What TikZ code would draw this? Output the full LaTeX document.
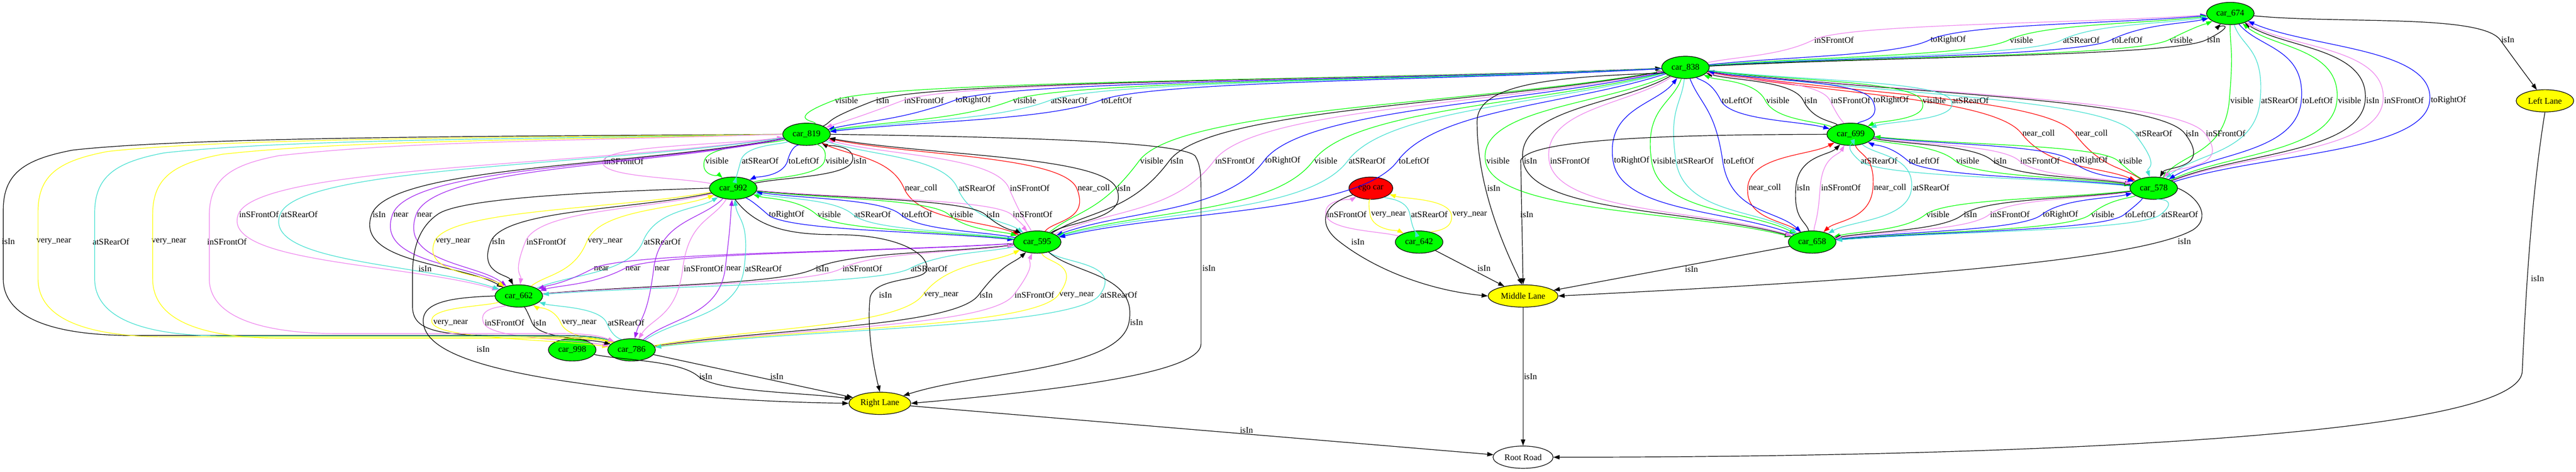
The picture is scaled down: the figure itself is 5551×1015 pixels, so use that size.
\documentclass[tikz,border=0pt]{standalone}
\usepackage{fontspec}
\setmainfont{Liberation Serif}
\usetikzlibrary{shapes.geometric,arrows.meta,calc}
\definecolor{cg}{RGB}{0,255,0}
\definecolor{cv}{RGB}{238,130,238}
\definecolor{cb}{RGB}{0,0,255}
\definecolor{ct}{RGB}{64,224,208}
\definecolor{cr}{RGB}{255,0,0}
\definecolor{cy}{RGB}{255,255,0}
\definecolor{cp}{RGB}{160,32,240}
\newcommand\lblfont{\fontsize{14}{16}\selectfont}
\newcounter{ec}
\newcommand\txtvis{visible}
\newcommand\txtisin{isIn}
\newcommand\txtfr{inSFrontOf}
\newcommand\txttr{toRightOf}
\newcommand\txttl{toLeftOf}
\newcommand\txtrr{atSRearOf}
\newcommand\txtnc{near\_coll}
\newcommand\txtvn{very\_near}
\newcommand\txtnr{near}
% curved edge through the left side of its label
\newcommand\EDG[6]{%
 \stepcounter{ec}%
 \node[lbl] (L\arabic{ec}) at (#3,#4) {#6};%
 \coordinate (V\arabic{ec}) at ([xshift=-1.5pt]L\arabic{ec}.west);%
 \draw[conn,#5] let \p1=(#1), \p2=(#2), \p3=(V\arabic{ec}) in
 (#1) .. controls ({\x1+0.4*(\x3-\x1)},{\y1+0.4*(\y3-\y1)}) and ({\x3-0.06*(\x2-\x1)},{\y3-0.3*(\y2-\y1)}) .. (\p3)
 .. controls ({\x3+0.06*(\x2-\x1)},{\y3+0.3*(\y2-\y1)}) and ({\x2+0.4*(\x3-\x2)},{\y2+0.4*(\y3-\y2)}) .. (#2);%
}
\newcommand\Rel[5]{\EDG{#2}{#3}{#4}{#5}{k#1}{\csname txt#1\endcsname}}
\newcommand\SEDG[6]{\stepcounter{ec}\node[lbl] (L\arabic{ec}) at (#3,#4) {#6};\draw[conn,#5] (#1) -- (#2);}
\newcommand\LBL[3]{\stepcounter{ec}\node[lbl] (L\arabic{ec}) at (#1,#2) {#3};}
% outer arcs car_819 -> car_786
\newcommand\OA[6]{%
 \LBL{#6}{520}{#5}%
 \draw[conn,#4] (n819.west) .. controls (1150,#2) and ({#1+420},#2) .. ({#1+150},{#2+30})
 .. controls ({#1+45},{#2+50}) and (#1,{#2+80}) .. (#1,{#2+160}) -- (#1,600)
 .. controls (#1,{#3-45}) and ({#1+90},#3) .. ({#1+280},#3) -- (1200,#3)
 .. controls (1260,#3) and (1290,{#3+3}) .. (n786.155);%
}
\begin{document}
\begin{tikzpicture}[x=0.75pt,y=-0.75pt,
 conn/.style={line width=1pt,-{Triangle[length=10pt,width=7pt]}},
 lbl/.style={font=\lblfont,inner sep=0pt},
 kvis/.style={color=cg}, kisin/.style={color=black}, kfr/.style={color=cv},
 ktr/.style={color=cb}, ktl/.style={color=cb}, krr/.style={color=ct},
 knc/.style={color=cr}, kvn/.style={color=cy}, knr/.style={color=cp},
 nd/.style={ellipse,draw=black,line width=1pt,inner sep=0pt,font=\lblfont,minimum height=36pt},
 car/.style={nd,fill=cg,minimum width=77pt},
 lane/.style={nd,fill=cy}]
\useasboundingbox (0,0) rectangle (5551,1015);
\fill[white] (0,0) rectangle (5551,1015);
% nodes
\node[car] (n674) at (4806,29) {car\_674};
\node[car] (n838) at (3632,145) {car\_838};
\node[lane,minimum width=93pt] (nLL) at (5484,217) {Left Lane};
\node[car] (n819) at (1738,289) {car\_819};
\node[car] (n699) at (3988,289) {car\_699};
\node[car] (n992) at (1580,405) {car\_992};
\node[nd,fill=cr,minimum width=71pt] (ego) at (2954,405) {ego car};
\node[car] (n578) at (4641,405) {car\_578};
\node[car] (n595) at (2235,521) {car\_595};
\node[car] (n642) at (3058,521) {car\_642};
\node[car] (n658) at (3905,521) {car\_658};
\node[car] (n662) at (1118,637) {car\_662};
\node[lane,minimum width=113pt] (nML) at (3282,637) {Middle Lane};
\node[car] (n998) at (1233,753) {car\_998};
\node[car] (n786) at (1361,753) {car\_786};
\node[lane,minimum width=100pt] (nRL) at (1896,868) {Right Lane};
\node[nd,fill=white,minimum width=97pt] (nRR) at (3282,984) {Root Road};
% car_838 -> car_674
\Rel{fr}{n838}{n674}{3952}{86}
\Rel{tr}{n838}{n674}{4198}{86}
\Rel{vis}{n838}{n674}{4356}{86}
\Rel{rr}{n838}{n674}{4485}{86}
\Rel{tl}{n838}{n674}{4584}{86}
\Rel{vis}{n838}{n674}{4700}{86}
\Rel{isin}{n838}{n674}{4770}{86}
% car_674 <-> car_578
\Rel{vis}{n674}{n578}{4831}{216}
\Rel{rr}{n674}{n578}{4912}{216}
\Rel{tl}{n674}{n578}{4994}{216}
\Rel{vis}{n578}{n674}{5063}{216}
\Rel{isin}{n578}{n674}{5113}{216}
\Rel{fr}{n578}{n674}{5180}{216}
\Rel{tr}{n578}{n674}{5276}{216}
% car_838 -> car_578
\Rel{nc}{n838}{n578}{4393}{287}
\Rel{nc}{n578}{n838}{4507}{287}
\Rel{rr}{n838}{n578}{4641}{287}
\Rel{isin}{n838}{n578}{4724}{287}
\Rel{fr}{n838}{n578}{4796}{287}
% car_838 <-> car_699
\Rel{tl}{n838}{n699}{3743}{216}
\Rel{vis}{n699}{n838}{3831}{216}
\Rel{isin}{n699}{n838}{3902}{216}
\Rel{fr}{n699}{n838}{3988}{216}
\Rel{tr}{n699}{n838}{4075}{216}
\Rel{vis}{n838}{n699}{4168}{216}
\Rel{rr}{n838}{n699}{4246}{216}
% car_699 <-> car_578
\Rel{rr}{n578}{n699}{4049}{346}
\Rel{tl}{n578}{n699}{4146}{346}
\Rel{vis}{n699}{n578}{4240}{346}
\Rel{isin}{n699}{n578}{4310}{346}
\Rel{fr}{n699}{n578}{4396}{346}
\Rel{tr}{n699}{n578}{4504}{346}
\Rel{vis}{n578}{n699}{4591}{346}
% car_699 <-> car_658
\Rel{nc}{n658}{n699}{3803}{404}
\Rel{isin}{n658}{n699}{3886}{404}
\Rel{fr}{n658}{n699}{3967}{404}
\Rel{nc}{n699}{n658}{4073}{404}
\Rel{rr}{n699}{n658}{4161}{404}
% car_838 <-> car_658
\Rel{vis}{n838}{n658}{3228}{346}
\Rel{isin}{n838}{n658}{3298}{346}
\Rel{fr}{n838}{n658}{3383}{346}
\Rel{tr}{n658}{n838}{3516}{346}
\Rel{vis}{n838}{n658}{3586}{346}
\Rel{rr}{n838}{n658}{3653}{346}
\Rel{tl}{n838}{n658}{3747}{346}
% car_578 <-> car_658
\Rel{vis}{n578}{n658}{4176}{462}
\Rel{isin}{n578}{n658}{4246}{462}
\Rel{fr}{n578}{n658}{4331}{462}
\Rel{tr}{n658}{n578}{4440}{462}
\Rel{vis}{n578}{n658}{4531}{462}
\Rel{tl}{n578}{n658}{4612}{462}
\Rel{rr}{n578}{n658}{4697}{462}
% car_838 <-> car_819
\Rel{vis}{n819}{n838}{1824}{216}
\Rel{isin}{n819}{n838}{1902}{216}
\Rel{fr}{n838}{n819}{1991}{216}
\Rel{tr}{n838}{n819}{2097}{216}
\Rel{vis}{n838}{n819}{2208}{216}
\Rel{rr}{n838}{n819}{2304}{216}
\Rel{tl}{n838}{n819}{2406}{216}
% car_838 <-> car_595
\Rel{vis}{n595}{n838}{2482}{346}
\Rel{isin}{n595}{n838}{2536}{346}
\Rel{fr}{n595}{n838}{2661}{346}
\Rel{tr}{n838}{n595}{2764}{346}
\Rel{vis}{n838}{n595}{2857}{346}
\Rel{rr}{n838}{n595}{2946}{346}
\Rel{tl}{n838}{n595}{3047}{346}
% car_819 <-> car_992
\Rel{fr}{n992}{n819}{1344}{347}
\Rel{vis}{n819}{n992}{1545}{346}
\Rel{rr}{n819}{n992}{1638}{346}
\Rel{tl}{n819}{n992}{1732}{346}
\Rel{vis}{n992}{n819}{1804}{346}
\Rel{isin}{n992}{n819}{1853}{346}
% car_819 <-> car_595
\Rel{nc}{n819}{n595}{1985}{405}
\Rel{rr}{n819}{n595}{2105}{405}
\Rel{fr}{n595}{n819}{2219}{405}
\Rel{nc}{n595}{n819}{2357}{405}
\Rel{isin}{n595}{n819}{2422}{405}
% car_992 <-> car_595
\Rel{tr}{n992}{n595}{1695}{462}
\Rel{vis}{n595}{n992}{1787}{462}
\Rel{rr}{n595}{n992}{1880}{462}
\Rel{tl}{n595}{n992}{1976}{462}
\Rel{vis}{n992}{n595}{2072}{462}
\Rel{isin}{n992}{n595}{2140}{462}
\Rel{fr}{n992}{n595}{2225}{462}
% car_819 -> car_662
\Rel{fr}{n819}{n662}{558}{462}
\Rel{rr}{n819}{n662}{645}{462}
\Rel{isin}{n819}{n662}{817}{462}
\Rel{nr}{n819}{n662}{864}{462}
\Rel{nr}{n819}{n662}{915}{462}
% car_992 <-> car_662
\Rel{vn}{n992}{n662}{976}{520}
\Rel{isin}{n992}{n662}{1074}{520}
\Rel{fr}{n992}{n662}{1177}{520}
\Rel{vn}{n662}{n992}{1304}{520}
\Rel{rr}{n662}{n992}{1427}{520}
% car_595 <-> car_662
\Rel{nr}{n595}{n662}{1296}{578}
\Rel{nr}{n595}{n662}{1364}{578}
\Rel{isin}{n662}{n595}{1772}{578}
\Rel{fr}{n662}{n595}{1858}{578}
\Rel{rr}{n595}{n662}{2002}{578}
% car_992 <-> car_786
\Rel{nr}{n992}{n786}{1427}{578}
\Rel{fr}{n992}{n786}{1516}{578}
\Rel{nr}{n786}{n992}{1581}{578}
\Rel{rr}{n786}{n992}{1645}{578}
\LBL{916}{578}{isIn}
\draw[conn,kisin] (n992.west) .. controls (1300,412) and (1000,425) .. (945,460)
 .. controls (900,490) and (889,540) .. (889,590) -- (889,660)
 .. controls (889,705) and (930,720) .. (1050,722) -- (1250,726)
 .. controls (1285,727) and (1300,730) .. (n786.155);
% car_595 <-> car_786
\Rel{vn}{n786}{n595}{2028}{635}
\Rel{isin}{n786}{n595}{2125}{635}
\Rel{fr}{n786}{n595}{2229}{635}
\Rel{vn}{n595}{n786}{2320}{635}
\Rel{rr}{n595}{n786}{2411}{635}
% car_662 <-> car_786
\Rel{vn}{n662}{n786}{971}{695}
\Rel{fr}{n662}{n786}{1087}{695}
\Rel{isin}{n662}{n786}{1163}{695}
\Rel{vn}{n786}{n662}{1248}{695}
\Rel{rr}{n786}{n662}{1349}{695}
% car_819 -> car_786 (outer arcs)
\OA{7}{293}{722}{kisin}{isIn}{18}
\OA{82}{296}{725}{kvn}{very\_near}{116}
\OA{204}{299}{723}{krr}{atSRearOf}{239}
\OA{329}{302}{728}{kvn}{very\_near}{364}
\OA{451}{305}{718}{kfr}{inSFrontOf}{489}
% ego car <-> car_642
\Rel{fr}{n642}{ego}{2902}{462}
\Rel{vn}{ego}{n642}{2992}{462}
\Rel{rr}{ego}{n642}{3080}{462}
\Rel{vn}{n642}{ego}{3167}{462}
% lanes
\Rel{isin}{n674}{nLL}{5404}{86}
\LBL{5468}{600}{isIn}
\draw[conn,kisin] (nLL.south) .. controls (5450,450) and (5440,700) .. (5435,800)
 .. controls (5425,950) and (4200,984) .. (nRR.east);
\SEDG{nML}{nRR}{3298}{811}{kisin}{isIn}
\SEDG{nRL}{nRR}{2686}{926}{kisin}{isIn}
\SEDG{n642}{nML}{3198}{577}{kisin}{isIn}
\SEDG{n658}{nML}{3645}{579}{kisin}{isIn}
\SEDG{n786}{nRL}{1674}{810}{kisin}{isIn}
\Rel{isin}{n595}{nRL}{2449}{694}
\Rel{isin}{n998}{nRL}{1521}{810}
\LBL{2926}{521}{isIn}
\draw[conn,kisin] (ego.200) .. controls (2850,440) and (2840,480) .. (2880,515)
 .. controls (2960,580) and (3080,625) .. (nML.west);
\LBL{3219}{405}{isIn}
\draw[conn,kisin] (n838.195) .. controls (3350,165) and (3185,180) .. (3183,260)
 .. controls (3182,400) and (3240,530) .. (nML.95);
\LBL{3290}{462}{isIn}
\draw[conn,kisin] (n699.west) .. controls (3700,290) and (3300,292) .. (3277,345) -- (nML.north);
\LBL{4707}{520}{isIn}
\draw[conn,kisin] (n578.east) .. controls (4740,425) and (4765,470) .. (4725,495)
 .. controls (4600,565) and (4000,605) .. (nML.east);
\LBL{2605}{577}{isIn}
\draw[conn,kisin] (n819.east) .. controls (2200,295) and (2540,305) .. (2575,335)
 .. controls (2588,355) and (2588,380) .. (2588,420) -- (2588,740)
 .. controls (2588,790) and (2400,830) .. (nRL.east);
\LBL{1908}{635}{isIn}
\draw[conn,kisin] (n992.-80) .. controls (1630,490) and (1700,505) .. (1800,505)
 .. controls (1960,505) and (2010,560) .. (1995,585)
 .. controls (1980,605) and (1885,598) .. (1875,640)
 .. controls (1868,700) and (1880,780) .. (nRL.north);
\LBL{1041}{752}{isIn}
\draw[conn,kisin] (n662.west) .. controls (980,640) and (912,648) .. (912,690)
 .. controls (912,745) and (1000,790) .. (1250,825)
 .. controls (1500,860) and (1700,866) .. (nRL.west);
\end{tikzpicture}
\end{document}
